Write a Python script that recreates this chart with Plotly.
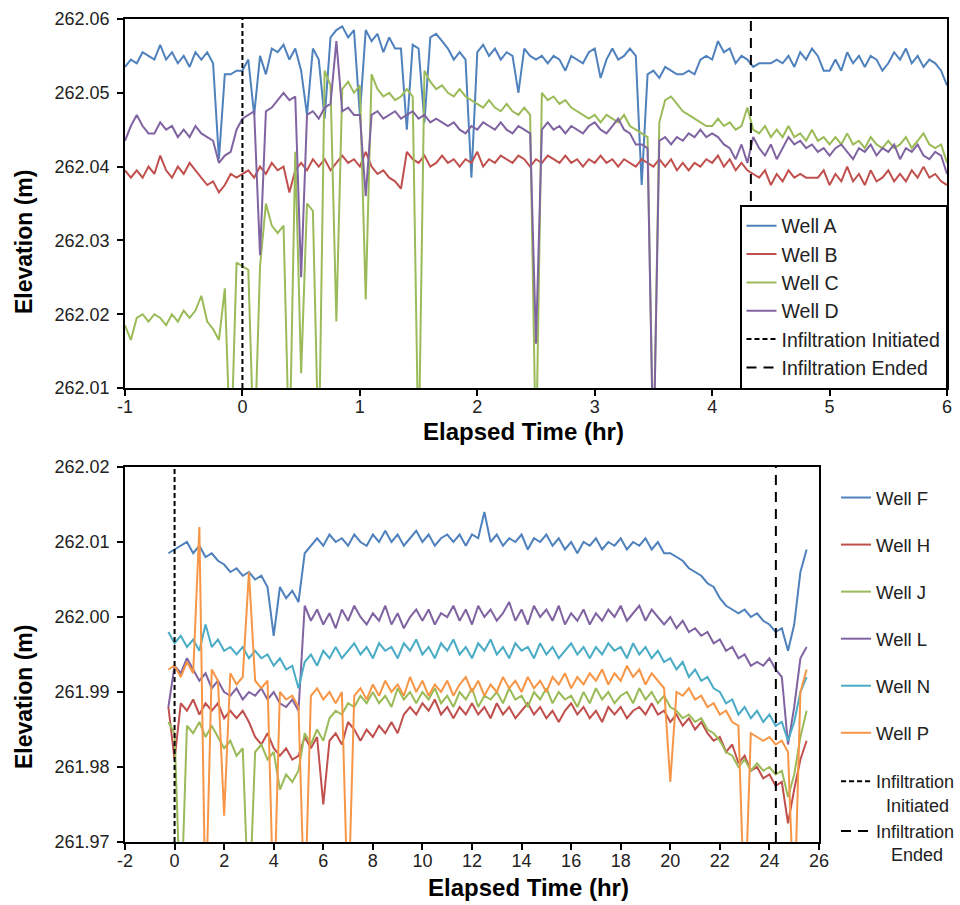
import plotly.graph_objects as go

# ---------------- Top panel data (Wells A-D), sampled every 0.05 hr from -1 hr ----------------
top_start = -1.0
top_step = 0.05
well_a = [
    262.0535, 262.0545, 262.0540, 262.0555, 262.0550, 262.0545, 262.0565, 262.0545, 262.0555, 262.0540,
    262.0550, 262.0535, 262.0555, 262.0545, 262.0555, 262.0540, 262.0410, 262.0525, 262.0525, 262.0530,
    262.0530, 262.0545, 262.0470, 262.0550, 262.0525, 262.0560, 262.0555, 262.0565, 262.0545, 262.0560,
    262.0530, 262.0470, 262.0560, 262.0545, 262.0465, 262.0575, 262.0585, 262.0590, 262.0575, 262.0585,
    262.0470, 262.0585, 262.0570, 262.0580, 262.0555, 262.0575, 262.0560, 262.0560, 262.0450, 262.0565,
    262.0560, 262.0460, 262.0575, 262.0580, 262.0570, 262.0560, 262.0545, 262.0555, 262.0545, 262.0385,
    262.0555, 262.0565, 262.0550, 262.0560, 262.0545, 262.0555, 262.0550, 262.0500, 262.0560, 262.0550,
    262.0545, 262.0550, 262.0540, 262.0550, 262.0545, 262.0530, 262.0550, 262.0545, 262.0540, 262.0555,
    262.0560, 262.0520, 262.0545, 262.0560, 262.0545, 262.0550, 262.0560, 262.0550, 262.0375, 262.0525,
    262.0530, 262.0520, 262.0535, 262.0530, 262.0525, 262.0525, 262.0530, 262.0525, 262.0545, 262.0550,
    262.0545, 262.0570, 262.0555, 262.0560, 262.0540, 262.0550, 262.0545, 262.0535, 262.0540, 262.0540,
    262.0540, 262.0545, 262.0540, 262.0550, 262.0535, 262.0555, 262.0545, 262.0560, 262.0550, 262.0530,
    262.0530, 262.0545, 262.0530, 262.0555, 262.0540, 262.0550, 262.0535, 262.0550, 262.0545, 262.0530,
    262.0540, 262.0555, 262.0545, 262.0560, 262.0540, 262.0550, 262.0535, 262.0545, 262.0540, 262.0530,
    262.0510,
]
well_b = [
    262.0395, 262.0385, 262.0395, 262.0385, 262.0400, 262.0390, 262.0415, 262.0395, 262.0385, 262.0400,
    262.0390, 262.0405, 262.0395, 262.0385, 262.0375, 262.0380, 262.0365, 262.0375, 262.0390, 262.0385,
    262.0390, 262.0395, 262.0385, 262.0400, 262.0390, 262.0405, 262.0395, 262.0400, 262.0365, 262.0395,
    262.0405, 262.0395, 262.0410, 262.0400, 262.0410, 262.0395, 262.0405, 262.0415, 262.0405, 262.0410,
    262.0400, 262.0420, 262.0400, 262.0390, 262.0395, 262.0385, 262.0380, 262.0370, 262.0420, 262.0410,
    262.0405, 262.0415, 262.0400, 262.0405, 262.0415, 262.0405, 262.0410, 262.0400, 262.0410, 262.0405,
    262.0420, 262.0400, 262.0410, 262.0405, 262.0415, 262.0410, 262.0405, 262.0415, 262.0410, 262.0400,
    262.0410, 262.0405, 262.0415, 262.0410, 262.0405, 262.0415, 262.0405, 262.0410, 262.0400, 262.0410,
    262.0405, 262.0415, 262.0405, 262.0410, 262.0400, 262.0410, 262.0405, 262.0400, 262.0410, 262.0405,
    262.0400, 262.0410, 262.0400, 262.0410, 262.0395, 262.0405, 262.0395, 262.0405, 262.0400, 262.0410,
    262.0405, 262.0415, 262.0400, 262.0410, 262.0395, 262.0405, 262.0395, 262.0390, 262.0385, 262.0395,
    262.0375, 262.0390, 262.0380, 262.0395, 262.0385, 262.0390, 262.0385, 262.0385, 262.0385, 262.0395,
    262.0375, 262.0390, 262.0380, 262.0400, 262.0380, 262.0390, 262.0375, 262.0395, 262.0380, 262.0385,
    262.0395, 262.0380, 262.0390, 262.0380, 262.0395, 262.0385, 262.0400, 262.0385, 262.0390, 262.0380,
    262.0375,
]
well_c = [
    262.0185, 262.0165, 262.0195, 262.0200, 262.0190, 262.0200, 262.0195, 262.0185, 262.0200, 262.0190,
    262.0205, 262.0195, 262.0205, 262.0225, 262.0190, 262.0180, 262.0165, 262.0235, 262.0000, 262.0270,
    262.0265, 262.0260, 262.0000, 262.0265, 262.0350, 262.0320, 262.0310, 262.0320, 262.0000, 262.0420,
    262.0120, 262.0350, 262.0340, 262.0000, 262.0530, 262.0510, 262.0190, 262.0505, 262.0515, 262.0500,
    262.0510, 262.0220, 262.0525, 262.0505, 262.0495, 262.0500, 262.0490, 262.0495, 262.0505, 262.0495,
    262.0000, 262.0530, 262.0515, 262.0505, 262.0510, 262.0500, 262.0495, 262.0505, 262.0495, 262.0490,
    262.0485, 262.0480, 262.0490, 262.0480, 262.0475, 262.0485, 262.0475, 262.0470, 262.0480, 262.0470,
    262.0000, 262.0500, 262.0490, 262.0495, 262.0485, 262.0490, 262.0480, 262.0475, 262.0470, 262.0465,
    262.0470, 262.0460, 262.0470, 262.0465, 262.0460, 262.0470, 262.0455, 262.0450, 262.0445, 262.0440,
    262.0000, 262.0460, 262.0490, 262.0495, 262.0485, 262.0475, 262.0470, 262.0465, 262.0460, 262.0455,
    262.0455, 262.0465, 262.0455, 262.0460, 262.0450, 262.0455, 262.0480, 262.0450, 262.0445, 262.0455,
    262.0440, 262.0450, 262.0440, 262.0455, 262.0440, 262.0445, 262.0435, 262.0450, 262.0435, 262.0440,
    262.0430, 262.0440, 262.0430, 262.0445, 262.0430, 262.0435, 262.0425, 262.0440, 262.0430, 262.0425,
    262.0435, 262.0425, 262.0430, 262.0440, 262.0425, 262.0435, 262.0445, 262.0430, 262.0425, 262.0430,
    262.0405,
]
well_d = [
    262.0435, 262.0455, 262.0470, 262.0455, 262.0445, 262.0445, 262.0460, 262.0450, 262.0455, 262.0440,
    262.0450, 262.0440, 262.0455, 262.0445, 262.0440, 262.0435, 262.0405, 262.0415, 262.0420, 262.0450,
    262.0465, 262.0470, 262.0475, 262.0280, 262.0475, 262.0480, 262.0490, 262.0500, 262.0490, 262.0495,
    262.0250, 262.0470, 262.0475, 262.0465, 262.0480, 262.0485, 262.0570, 262.0475, 262.0480, 262.0470,
    262.0470, 262.0360, 262.0470, 262.0475, 262.0465, 262.0470, 262.0475, 262.0465, 262.0470, 262.0475,
    262.0465, 262.0470, 262.0460, 262.0465, 262.0460, 262.0455, 262.0460, 262.0450, 262.0445, 262.0455,
    262.0450, 262.0460, 262.0455, 262.0450, 262.0460, 262.0450, 262.0445, 262.0455, 262.0450, 262.0445,
    262.0160, 262.0450, 262.0460, 262.0450, 262.0455, 262.0445, 262.0455, 262.0450, 262.0445, 262.0455,
    262.0460, 262.0450, 262.0445, 262.0455, 262.0465, 262.0450, 262.0445, 262.0430, 262.0430, 262.0425,
    262.0000, 262.0435, 262.0440, 262.0430, 262.0440, 262.0435, 262.0445, 262.0440, 262.0450, 262.0440,
    262.0445, 262.0440, 262.0430, 262.0425, 262.0410, 262.0430, 262.0405, 262.0440, 262.0425, 262.0415,
    262.0430, 262.0410, 262.0425, 262.0440, 262.0430, 262.0435, 262.0425, 262.0430, 262.0420, 262.0425,
    262.0415, 262.0425, 262.0430, 262.0420, 262.0410, 262.0425, 262.0420, 262.0430, 262.0415, 262.0425,
    262.0420, 262.0430, 262.0410, 262.0425, 262.0420, 262.0430, 262.0415, 262.0410, 262.0420, 262.0415,
    262.0390,
]
top_names = ["Well A", "Well B", "Well C", "Well D"]
top_series = [well_a, well_b, well_c, well_d]
top_infiltration_start = 0.0
top_infiltration_end = 4.33
top_xrange = [-1, 6]
top_yrange = [262.01, 262.06]
top_xticks = [-1, 0, 1, 2, 3, 4, 5, 6]
top_xlabels = ["-1", "0", "1", "2", "3", "4", "5", "6"]

# ---------------- Bottom panel data (Wells F-P), sampled every 0.25 hr from -0.25 hr ----------------
bot_start = -0.25
bot_step = 0.25
well_f = [
    262.0085,
    262.0090, 262.0095, 262.0100, 262.0085,
    262.0095, 262.0080, 262.0085, 262.0075,
    262.0070, 262.0060, 262.0065, 262.0055,
    262.0060, 262.0050, 262.0055, 262.0040,
    261.9975, 262.0040, 262.0025, 262.0035,
    262.0020, 262.0085, 262.0095, 262.0105,
    262.0095, 262.0110, 262.0100, 262.0105,
    262.0095, 262.0110, 262.0100, 262.0095,
    262.0110, 262.0100, 262.0115, 262.0100,
    262.0110, 262.0095, 262.0105, 262.0115,
    262.0100, 262.0110, 262.0095, 262.0105,
    262.0110, 262.0100, 262.0110, 262.0095,
    262.0110, 262.0105, 262.0140, 262.0100,
    262.0110, 262.0095, 262.0105, 262.0100,
    262.0110, 262.0090, 262.0105, 262.0100,
    262.0110, 262.0095, 262.0105, 262.0090,
    262.0100, 262.0085, 262.0100, 262.0095,
    262.0105, 262.0090, 262.0100, 262.0095,
    262.0105, 262.0090, 262.0100, 262.0095,
    262.0105, 262.0090, 262.0100, 262.0085,
    262.0085, 262.0080, 262.0075, 262.0065,
    262.0060, 262.0055, 262.0045, 262.0040,
    262.0025, 262.0015, 262.0010, 262.0005,
    262.0010, 262.0000, 262.0005, 261.9995,
    261.9990, 261.9980, 261.9985, 261.9955,
    261.9990, 262.0060, 262.0090,
]
well_h = [
    261.9880,
    261.9810, 261.9885, 261.9875, 261.9890,
    261.9870, 261.9885, 261.9875, 261.9885,
    261.9865, 261.9875, 261.9865, 261.9875,
    261.9860, 261.9840, 261.9830, 261.9845,
    261.9825, 261.9815, 261.9825, 261.9810,
    261.9815, 261.9840, 261.9825, 261.9840,
    261.9750, 261.9835, 261.9845, 261.9830,
    261.9860, 261.9850, 261.9835, 261.9850,
    261.9840, 261.9855, 261.9845, 261.9860,
    261.9845, 261.9870, 261.9880, 261.9870,
    261.9885, 261.9875, 261.9890, 261.9870,
    261.9880, 261.9865, 261.9880, 261.9870,
    261.9885, 261.9870, 261.9880, 261.9865,
    261.9885, 261.9870, 261.9880, 261.9865,
    261.9875, 261.9885, 261.9870, 261.9880,
    261.9865, 261.9875, 261.9860, 261.9875,
    261.9885, 261.9870, 261.9880, 261.9865,
    261.9875, 261.9860, 261.9880, 261.9870,
    261.9880, 261.9865, 261.9875, 261.9880,
    261.9870, 261.9885, 261.9870, 261.9875,
    261.9860, 261.9870, 261.9855, 261.9865,
    261.9850, 261.9860, 261.9845, 261.9835,
    261.9840, 261.9820, 261.9830, 261.9805,
    261.9815, 261.9795, 261.9800, 261.9785,
    261.9790, 261.9775, 261.9780, 261.9725,
    261.9770, 261.9810, 261.9835,
]
well_j = [
    261.9860,
    261.9845, 261.9600, 261.9855, 261.9845,
    261.9860, 261.9840, 261.9855, 261.9840,
    261.9825, 261.9835, 261.9815, 261.9825,
    261.9600, 261.9820, 261.9830, 261.9810,
    261.9820, 261.9770, 261.9790, 261.9780,
    261.9795, 261.9845, 261.9830, 261.9850,
    261.9835, 261.9865, 261.9875, 261.9870,
    261.9885, 261.9880, 261.9895, 261.9885,
    261.9900, 261.9885, 261.9895, 261.9880,
    261.9905, 261.9890, 261.9900, 261.9885,
    261.9900, 261.9890, 261.9905, 261.9885,
    261.9895, 261.9880, 261.9900, 261.9890,
    261.9905, 261.9880, 261.9895, 261.9890,
    261.9900, 261.9885, 261.9905, 261.9890,
    261.9895, 261.9880, 261.9900, 261.9890,
    261.9905, 261.9885, 261.9900, 261.9890,
    261.9895, 261.9880, 261.9900, 261.9885,
    261.9905, 261.9890, 261.9900, 261.9885,
    261.9895, 261.9900, 261.9885, 261.9905,
    261.9890, 261.9900, 261.9885, 261.9895,
    261.9880, 261.9875, 261.9865, 261.9870,
    261.9860, 261.9865, 261.9850, 261.9845,
    261.9835, 261.9820, 261.9815, 261.9800,
    261.9810, 261.9795, 261.9805, 261.9795,
    261.9800, 261.9790, 261.9795, 261.9760,
    261.9790, 261.9840, 261.9875,
]
well_l = [
    261.9880,
    261.9935, 261.9925, 261.9945, 261.9930,
    261.9915, 261.9925, 261.9905, 261.9915,
    261.9900, 261.9895, 261.9905, 261.9890,
    261.9900, 261.9895, 261.9905, 261.9890,
    261.9900, 261.9885, 261.9880, 261.9890,
    261.9875, 262.0015, 261.9995, 262.0010,
    261.9990, 262.0005, 261.9985, 262.0010,
    261.9995, 262.0015, 262.0000, 261.9990,
    262.0005, 261.9995, 262.0015, 261.9990,
    262.0005, 261.9985, 262.0000, 262.0010,
    261.9995, 262.0010, 261.9990, 262.0005,
    262.0000, 262.0015, 261.9995, 262.0010,
    261.9990, 262.0015, 262.0000, 262.0010,
    261.9995, 262.0005, 262.0020, 261.9995,
    262.0010, 261.9990, 262.0015, 262.0000,
    262.0010, 261.9995, 262.0015, 261.9990,
    262.0005, 261.9995, 262.0010, 261.9990,
    262.0005, 261.9995, 262.0010, 262.0000,
    262.0015, 261.9995, 262.0005, 262.0015,
    261.9995, 262.0010, 262.0000, 261.9990,
    262.0000, 261.9985, 261.9995, 261.9980,
    261.9985, 261.9975, 261.9980, 261.9965,
    261.9970, 261.9955, 261.9960, 261.9945,
    261.9950, 261.9935, 261.9940, 261.9935,
    261.9945, 261.9930, 261.9920, 261.9830,
    261.9880, 261.9945, 261.9960,
]
well_n = [
    261.9980,
    261.9965, 261.9975, 261.9960, 261.9970,
    261.9955, 261.9990, 261.9960, 261.9970,
    261.9955, 261.9960, 261.9950, 261.9960,
    261.9945, 261.9955, 261.9945, 261.9950,
    261.9935, 261.9945, 261.9930, 261.9935,
    261.9905, 261.9940, 261.9950, 261.9935,
    261.9955, 261.9945, 261.9960, 261.9945,
    261.9955, 261.9965, 261.9950, 261.9960,
    261.9945, 261.9965, 261.9955, 261.9960,
    261.9945, 261.9965, 261.9955, 261.9970,
    261.9950, 261.9960, 261.9945, 261.9965,
    261.9955, 261.9970, 261.9950, 261.9960,
    261.9945, 261.9965, 261.9955, 261.9970,
    261.9950, 261.9960, 261.9945, 261.9965,
    261.9955, 261.9960, 261.9945, 261.9965,
    261.9950, 261.9960, 261.9945, 261.9955,
    261.9965, 261.9950, 261.9960, 261.9945,
    261.9960, 261.9950, 261.9965, 261.9955,
    261.9960, 261.9945, 261.9965, 261.9950,
    261.9960, 261.9945, 261.9955, 261.9940,
    261.9945, 261.9930, 261.9940, 261.9920,
    261.9930, 261.9915, 261.9920, 261.9905,
    261.9900, 261.9885, 261.9890, 261.9870,
    261.9880, 261.9865, 261.9875, 261.9860,
    261.9870, 261.9855, 261.9860, 261.9835,
    261.9860, 261.9900, 261.9920,
]
well_p = [
    261.9930,
    261.9935, 261.9920, 261.9940, 261.9925,
    262.0120, 261.9600, 261.9930, 261.9915,
    261.9735, 261.9925, 261.9910, 261.9920,
    262.0060, 261.9915, 261.9905, 261.9915,
    261.9600, 261.9900, 261.9890, 261.9895,
    261.9880, 261.9600, 261.9895, 261.9905,
    261.9890, 261.9900, 261.9885, 261.9900,
    261.9600, 261.9895, 261.9905, 261.9890,
    261.9910, 261.9895, 261.9915, 261.9900,
    261.9910, 261.9895, 261.9920, 261.9900,
    261.9915, 261.9895, 261.9910, 261.9900,
    261.9915, 261.9895, 261.9910, 261.9920,
    261.9900, 261.9915, 261.9895, 261.9910,
    261.9900, 261.9920, 261.9905, 261.9915,
    261.9900, 261.9920, 261.9905, 261.9915,
    261.9900, 261.9920, 261.9910, 261.9925,
    261.9905, 261.9920, 261.9910, 261.9925,
    261.9915, 261.9930, 261.9910, 261.9925,
    261.9915, 261.9935, 261.9920, 261.9930,
    261.9910, 261.9925, 261.9915, 261.9905,
    261.9780, 261.9900, 261.9895, 261.9905,
    261.9890, 261.9895, 261.9880, 261.9885,
    261.9870, 261.9875, 261.9860, 261.9855,
    261.9600, 261.9845, 261.9840, 261.9835,
    261.9840, 261.9830, 261.9835, 261.9820,
    261.9600, 261.9900, 261.9930,
]
bot_names = ["Well F", "Well H", "Well J", "Well L", "Well N", "Well P"]
bot_series = [well_f, well_h, well_j, well_l, well_n, well_p]
bot_infiltration_start = 0.0
bot_infiltration_end = 24.26
bot_xrange = [-2, 26]
bot_yrange = [261.97, 262.02]
bot_xticks = [-2, 0, 2, 4, 6, 8, 10, 12, 14, 16, 18, 20, 22, 24, 26]
bot_xlabels = ["-2", "0", "2", "4", "6", "8", "10", "12", "14", "16", "18", "20", "22", "24", "26"]

top_colors = ["#4F81BD", "#C0504D", "#9BBB59", "#8064A2"]
bot_colors = ["#4F81BD", "#C0504D", "#9BBB59", "#8064A2", "#4BACC6", "#F79646"]
INIT_DASH = "5px,3px"
END_DASH = "10px,7px"

def times(start, step, n):
    return [round(start + step * i, 4) for i in range(n)]

W, H = 960, 905
fig = go.Figure()

for name, vals, col in zip(top_names, top_series, top_colors):
    fig.add_trace(go.Scatter(x=times(top_start, top_step, len(vals)), y=vals, mode="lines",
                             name=name, line=dict(color=col, width=2),
                             xaxis="x", yaxis="y", legend="legend", legendgroup=name))
fig.add_trace(go.Scatter(x=[top_infiltration_start] * 2, y=top_yrange, mode="lines",
                         name="Infiltration Initiated", line=dict(color="black", width=2, dash=INIT_DASH),
                         xaxis="x", yaxis="y", legend="legend", legendgroup="ti"))
fig.add_trace(go.Scatter(x=[top_infiltration_end] * 2, y=top_yrange, mode="lines",
                         name="Infiltration Ended", line=dict(color="black", width=2, dash=END_DASH),
                         xaxis="x", yaxis="y", legend="legend", legendgroup="te"))

for name, vals, col in zip(bot_names, bot_series, bot_colors):
    fig.add_trace(go.Scatter(x=times(bot_start, bot_step, len(vals)), y=vals, mode="lines",
                             name=name, line=dict(color=col, width=2),
                             xaxis="x2", yaxis="y2", legend="legend2", legendgroup=name))
fig.add_trace(go.Scatter(x=[bot_infiltration_start] * 2, y=bot_yrange, mode="lines",
                         name="Infiltration<br>\u00a0\u00a0Initiated",
                         line=dict(color="black", width=2, dash=INIT_DASH),
                         xaxis="x2", yaxis="y2", legend="legend3", legendgroup="bi"))
fig.add_trace(go.Scatter(x=[bot_infiltration_end] * 2, y=bot_yrange, mode="lines",
                         name="Infiltration<br>\u00a0\u00a0\u00a0Ended",
                         line=dict(color="black", width=2, dash=END_DASH),
                         xaxis="x2", yaxis="y2", legend="legend3", legendgroup="be"))

axis_common = dict(showline=True, linecolor="black", linewidth=1.5, mirror=True,
                   ticks="outside", ticklen=6, tickwidth=1.5, tickcolor="black",
                   showgrid=False, zeroline=False, automargin=False,
                   tickfont=dict(family="Arial", size=18, color="#222"))

ytitle_font = dict(family="Arial", size=23, color="black")
xtitle_font = dict(family="Arial", size=24, color="black")

fig.update_layout(
    width=W, height=H, margin=dict(l=0, r=0, t=0, b=0, autoexpand=False),
    paper_bgcolor="white", plot_bgcolor="white",
    font=dict(family="Arial", color="#222"),
    xaxis=dict(domain=[125 / W, 947 / W], anchor="y", range=top_xrange, ticklabelstandoff=-4,
               tickmode="array", tickvals=top_xticks, ticktext=top_xlabels, **axis_common),
    yaxis=dict(domain=[1 - 388 / H, 1 - 19 / H], anchor="x", range=top_yrange, dtick=0.01,
               tickformat=".2f", ticklabelstandoff=4, **axis_common),
    xaxis2=dict(domain=[125 / W, 819 / W], anchor="y2", range=bot_xrange, ticklabelstandoff=-4,
                tickmode="array", tickvals=bot_xticks, ticktext=bot_xlabels, **axis_common),
    yaxis2=dict(domain=[1 - 842 / H, 1 - 467 / H], anchor="x2", range=bot_yrange, dtick=0.01,
                tickformat=".2f", ticklabelstandoff=4, **axis_common),
    legend=dict(x=947 / W, xanchor="right", y=1 - 389 / H, yanchor="bottom",
                bgcolor="white", bordercolor="black", borderwidth=1.5,
                font=dict(family="Arial", size=19.5, color="#222"), tracegroupgap=0),
    legend2=dict(x=836 / W, xanchor="left", y=1 - 479 / H, yanchor="top",
                 bgcolor="rgba(0,0,0,0)", borderwidth=0,
                 font=dict(family="Arial", size=18.5, color="#222"), tracegroupgap=20),
    legend3=dict(x=836 / W, xanchor="left", y=1 - 763 / H, yanchor="top", valign="top",
                 bgcolor="rgba(0,0,0,0)", borderwidth=0,
                 font=dict(family="Arial", size=18, color="#222"), tracegroupgap=0),
    annotations=[
        dict(text="<b>Elevation (m)</b>", x=24 / W, y=1 - 242 / H, xref="paper", yref="paper",
             xanchor="center", yanchor="middle", textangle=-90, showarrow=False, font=ytitle_font),
        dict(text="<b>Elevation (m)</b>", x=24 / W, y=1 - 697 / H, xref="paper", yref="paper",
             xanchor="center", yanchor="middle", textangle=-90, showarrow=False, font=ytitle_font),
        dict(text="<b>Elapsed Time (hr)</b>", x=523 / W, y=1 - 431 / H, xref="paper", yref="paper",
             xanchor="center", yanchor="middle", showarrow=False, font=xtitle_font),
        dict(text="<b>Elapsed Time (hr)</b>", x=528 / W, y=1 - 887 / H, xref="paper", yref="paper",
             xanchor="center", yanchor="middle", showarrow=False, font=xtitle_font),
    ],
)

fig.write_html("out.html", config={"displayModeBar": False},
               post_script="document.body.style.margin='0px';document.body.style.padding='0px';")
